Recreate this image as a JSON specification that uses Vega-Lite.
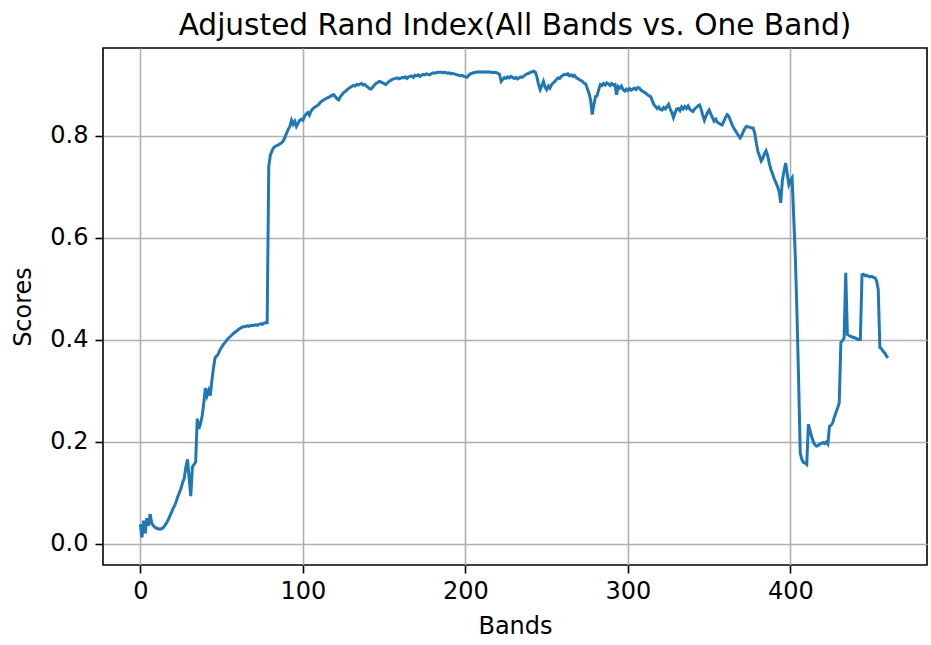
{
  "$schema": "https://vega.github.io/schema/vega-lite/v6.json",
  "width": 824,
  "height": 517,
  "autosize": {"type": "none"},
  "padding": {"left": 103, "top": 48, "right": 4, "bottom": 80},
  "background": "white",
  "title": {"text": "Adjusted Rand Index(All Bands vs. One Band)", "font": "DejaVu Sans", "fontSize": 29.6, "fontWeight": "normal", "color": "#000", "anchor": "middle", "offset": 6},
  "config": {
    "view": {"stroke": "#000", "strokeWidth": 1.6},
    "axis": {"labelFont": "DejaVu Sans", "titleFont": "DejaVu Sans", "labelFontSize": 24, "titleFontSize": 24, "titleFontWeight": "normal", "labelColor": "#000", "titleColor": "#000", "gridColor": "#b0b0b0", "gridWidth": 1.6, "tickColor": "#000", "tickWidth": 1.6, "tickSize": 8, "domain": false}
  },
  "data": {"values": [
{"b":0,"s":0.038},{"b":1,"s":0.012},{"b":2,"s":0.045},{"b":3,"s":0.020},{"b":4,"s":0.050},{"b":5,"s":0.035},{"b":6,"s":0.058},{"b":7,"s":0.040},{"b":8,"s":0.035},{"b":9,"s":0.032},
{"b":10,"s":0.030},{"b":11,"s":0.029},{"b":12,"s":0.028},{"b":13,"s":0.029},{"b":14,"s":0.031},{"b":15,"s":0.035},{"b":16,"s":0.040},{"b":17,"s":0.046},{"b":18,"s":0.053},{"b":19,"s":0.060},
{"b":20,"s":0.068},{"b":21,"s":0.074},{"b":22,"s":0.082},{"b":23,"s":0.092},{"b":24,"s":0.100},{"b":25,"s":0.108},{"b":26,"s":0.120},{"b":27,"s":0.128},{"b":28,"s":0.150},{"b":29,"s":0.165},
{"b":30,"s":0.128},{"b":31,"s":0.093},{"b":32,"s":0.150},{"b":33,"s":0.155},{"b":34,"s":0.160},{"b":35,"s":0.245},{"b":36,"s":0.225},{"b":37,"s":0.235},{"b":38,"s":0.250},{"b":39,"s":0.275},
{"b":40,"s":0.305},{"b":41,"s":0.290},{"b":42,"s":0.300},{"b":43,"s":0.290},{"b":44,"s":0.320},{"b":45,"s":0.345},{"b":46,"s":0.365},{"b":47,"s":0.368},{"b":48,"s":0.372},{"b":49,"s":0.380},
{"b":50,"s":0.385},{"b":51,"s":0.390},{"b":52,"s":0.394},{"b":53,"s":0.398},{"b":54,"s":0.402},{"b":55,"s":0.405},{"b":56,"s":0.408},{"b":57,"s":0.411},{"b":58,"s":0.414},{"b":59,"s":0.416},
{"b":60,"s":0.419},{"b":61,"s":0.421},{"b":62,"s":0.423},{"b":63,"s":0.425},{"b":64,"s":0.425},{"b":65,"s":0.426},{"b":66,"s":0.427},{"b":67,"s":0.426},{"b":68,"s":0.428},{"b":69,"s":0.427},
{"b":70,"s":0.428},{"b":71,"s":0.429},{"b":72,"s":0.428},{"b":73,"s":0.430},{"b":74,"s":0.431},{"b":75,"s":0.430},{"b":76,"s":0.432},{"b":77,"s":0.433},{"b":78,"s":0.433},{"b":79,"s":0.740},
{"b":80,"s":0.762},{"b":81,"s":0.770},{"b":82,"s":0.776},{"b":83,"s":0.779},{"b":84,"s":0.780},{"b":85,"s":0.782},{"b":86,"s":0.784},{"b":87,"s":0.786},{"b":88,"s":0.790},{"b":89,"s":0.797},
{"b":90,"s":0.805},{"b":91,"s":0.812},{"b":92,"s":0.818},{"b":93,"s":0.830},{"b":94,"s":0.822},{"b":95,"s":0.828},{"b":96,"s":0.818},{"b":97,"s":0.824},{"b":98,"s":0.830},{"b":99,"s":0.832},
{"b":100,"s":0.830},{"b":101,"s":0.838},{"b":102,"s":0.842},{"b":103,"s":0.845},{"b":104,"s":0.840},{"b":105,"s":0.848},{"b":106,"s":0.852},{"b":107,"s":0.855},{"b":108,"s":0.857},{"b":109,"s":0.859},
{"b":110,"s":0.862},{"b":111,"s":0.866},{"b":112,"s":0.868},{"b":113,"s":0.870},{"b":114,"s":0.872},{"b":115,"s":0.874},{"b":116,"s":0.875},{"b":117,"s":0.877},{"b":118,"s":0.879},{"b":119,"s":0.880},
{"b":120,"s":0.876},{"b":121,"s":0.872},{"b":122,"s":0.870},{"b":123,"s":0.876},{"b":124,"s":0.880},{"b":125,"s":0.884},{"b":126,"s":0.886},{"b":127,"s":0.889},{"b":128,"s":0.892},{"b":129,"s":0.894},
{"b":130,"s":0.896},{"b":131,"s":0.898},{"b":132,"s":0.897},{"b":133,"s":0.900},{"b":134,"s":0.899},{"b":135,"s":0.901},{"b":136,"s":0.902},{"b":137,"s":0.899},{"b":138,"s":0.900},{"b":139,"s":0.897},
{"b":140,"s":0.895},{"b":141,"s":0.892},{"b":142,"s":0.891},{"b":143,"s":0.895},{"b":144,"s":0.899},{"b":145,"s":0.902},{"b":146,"s":0.904},{"b":147,"s":0.906},{"b":148,"s":0.905},{"b":149,"s":0.903},
{"b":150,"s":0.902},{"b":151,"s":0.900},{"b":152,"s":0.903},{"b":153,"s":0.906},{"b":154,"s":0.908},{"b":155,"s":0.910},{"b":156,"s":0.911},{"b":157,"s":0.912},{"b":158,"s":0.913},{"b":159,"s":0.911},
{"b":160,"s":0.912},{"b":161,"s":0.914},{"b":162,"s":0.913},{"b":163,"s":0.915},{"b":164,"s":0.912},{"b":165,"s":0.915},{"b":166,"s":0.916},{"b":167,"s":0.917},{"b":168,"s":0.914},{"b":169,"s":0.918},
{"b":170,"s":0.917},{"b":171,"s":0.919},{"b":172,"s":0.916},{"b":173,"s":0.918},{"b":174,"s":0.920},{"b":175,"s":0.919},{"b":176,"s":0.921},{"b":177,"s":0.920},{"b":178,"s":0.919},{"b":179,"s":0.921},
{"b":180,"s":0.923},{"b":181,"s":0.922},{"b":182,"s":0.923},{"b":183,"s":0.924},{"b":184,"s":0.924},{"b":185,"s":0.924},{"b":186,"s":0.923},{"b":187,"s":0.924},{"b":188,"s":0.923},{"b":189,"s":0.922},
{"b":190,"s":0.923},{"b":191,"s":0.921},{"b":192,"s":0.922},{"b":193,"s":0.921},{"b":194,"s":0.920},{"b":195,"s":0.919},{"b":196,"s":0.918},{"b":197,"s":0.917},{"b":198,"s":0.918},{"b":199,"s":0.916},
{"b":200,"s":0.915},{"b":201,"s":0.914},{"b":202,"s":0.918},{"b":203,"s":0.921},{"b":204,"s":0.922},{"b":205,"s":0.923},{"b":206,"s":0.924},{"b":207,"s":0.924},{"b":208,"s":0.925},{"b":209,"s":0.924},
{"b":210,"s":0.925},{"b":211,"s":0.924},{"b":212,"s":0.925},{"b":213,"s":0.924},{"b":214,"s":0.925},{"b":215,"s":0.924},{"b":216,"s":0.924},{"b":217,"s":0.923},{"b":218,"s":0.924},{"b":219,"s":0.923},
{"b":220,"s":0.922},{"b":221,"s":0.920},{"b":222,"s":0.906},{"b":223,"s":0.910},{"b":224,"s":0.914},{"b":225,"s":0.912},{"b":226,"s":0.915},{"b":227,"s":0.913},{"b":228,"s":0.916},{"b":229,"s":0.914},
{"b":230,"s":0.912},{"b":231,"s":0.914},{"b":232,"s":0.911},{"b":233,"s":0.913},{"b":234,"s":0.915},{"b":235,"s":0.914},{"b":236,"s":0.917},{"b":237,"s":0.919},{"b":238,"s":0.921},{"b":239,"s":0.922},
{"b":240,"s":0.924},{"b":241,"s":0.925},{"b":242,"s":0.926},{"b":243,"s":0.924},{"b":244,"s":0.915},{"b":245,"s":0.900},{"b":246,"s":0.890},{"b":247,"s":0.898},{"b":248,"s":0.906},{"b":249,"s":0.895},
{"b":250,"s":0.890},{"b":251,"s":0.897},{"b":252,"s":0.893},{"b":253,"s":0.900},{"b":254,"s":0.903},{"b":255,"s":0.906},{"b":256,"s":0.910},{"b":257,"s":0.913},{"b":258,"s":0.912},{"b":259,"s":0.916},
{"b":260,"s":0.918},{"b":261,"s":0.920},{"b":262,"s":0.919},{"b":263,"s":0.921},{"b":264,"s":0.917},{"b":265,"s":0.919},{"b":266,"s":0.916},{"b":267,"s":0.918},{"b":268,"s":0.914},{"b":269,"s":0.912},
{"b":270,"s":0.910},{"b":271,"s":0.908},{"b":272,"s":0.906},{"b":273,"s":0.903},{"b":274,"s":0.901},{"b":275,"s":0.892},{"b":276,"s":0.883},{"b":277,"s":0.870},{"b":278,"s":0.841},{"b":279,"s":0.860},
{"b":280,"s":0.876},{"b":281,"s":0.878},{"b":282,"s":0.890},{"b":283,"s":0.900},{"b":284,"s":0.898},{"b":285,"s":0.902},{"b":286,"s":0.899},{"b":287,"s":0.903},{"b":288,"s":0.901},{"b":289,"s":0.898},
{"b":290,"s":0.902},{"b":291,"s":0.899},{"b":292,"s":0.900},{"b":293,"s":0.880},{"b":294,"s":0.896},{"b":295,"s":0.893},{"b":296,"s":0.897},{"b":297,"s":0.890},{"b":298,"s":0.887},{"b":299,"s":0.891},
{"b":300,"s":0.888},{"b":301,"s":0.892},{"b":302,"s":0.889},{"b":303,"s":0.891},{"b":304,"s":0.893},{"b":305,"s":0.890},{"b":306,"s":0.894},{"b":307,"s":0.893},{"b":308,"s":0.889},{"b":309,"s":0.887},
{"b":310,"s":0.885},{"b":311,"s":0.883},{"b":312,"s":0.880},{"b":313,"s":0.878},{"b":314,"s":0.876},{"b":315,"s":0.868},{"b":316,"s":0.860},{"b":317,"s":0.857},{"b":318,"s":0.853},{"b":319,"s":0.856},
{"b":320,"s":0.851},{"b":321,"s":0.850},{"b":322,"s":0.855},{"b":323,"s":0.852},{"b":324,"s":0.857},{"b":325,"s":0.861},{"b":326,"s":0.852},{"b":327,"s":0.845},{"b":328,"s":0.835},{"b":329,"s":0.845},
{"b":330,"s":0.852},{"b":331,"s":0.853},{"b":332,"s":0.849},{"b":333,"s":0.856},{"b":334,"s":0.852},{"b":335,"s":0.857},{"b":336,"s":0.853},{"b":337,"s":0.858},{"b":338,"s":0.852},{"b":339,"s":0.849},
{"b":340,"s":0.847},{"b":341,"s":0.852},{"b":342,"s":0.855},{"b":343,"s":0.858},{"b":344,"s":0.860},{"b":345,"s":0.852},{"b":346,"s":0.840},{"b":347,"s":0.830},{"b":348,"s":0.838},{"b":349,"s":0.845},
{"b":350,"s":0.850},{"b":351,"s":0.842},{"b":352,"s":0.835},{"b":353,"s":0.828},{"b":354,"s":0.832},{"b":355,"s":0.826},{"b":356,"s":0.824},{"b":357,"s":0.822},{"b":358,"s":0.821},{"b":359,"s":0.828},
{"b":360,"s":0.835},{"b":361,"s":0.841},{"b":362,"s":0.838},{"b":363,"s":0.830},{"b":364,"s":0.822},{"b":365,"s":0.815},{"b":366,"s":0.810},{"b":367,"s":0.805},{"b":368,"s":0.800},{"b":369,"s":0.795},
{"b":370,"s":0.800},{"b":371,"s":0.808},{"b":372,"s":0.814},{"b":373,"s":0.818},{"b":374,"s":0.817},{"b":375,"s":0.816},{"b":376,"s":0.815},{"b":377,"s":0.815},{"b":378,"s":0.805},{"b":379,"s":0.785},
{"b":380,"s":0.768},{"b":381,"s":0.760},{"b":382,"s":0.750},{"b":383,"s":0.755},{"b":384,"s":0.765},{"b":385,"s":0.770},{"b":386,"s":0.760},{"b":387,"s":0.745},{"b":388,"s":0.733},{"b":389,"s":0.725},
{"b":390,"s":0.715},{"b":391,"s":0.708},{"b":392,"s":0.700},{"b":393,"s":0.690},{"b":394,"s":0.668},{"b":395,"s":0.712},{"b":396,"s":0.730},{"b":397,"s":0.746},{"b":398,"s":0.725},{"b":399,"s":0.704},
{"b":400,"s":0.712},{"b":401,"s":0.717},{"b":402,"s":0.640},{"b":403,"s":0.560},{"b":404,"s":0.450},{"b":405,"s":0.320},{"b":406,"s":0.178},{"b":407,"s":0.165},{"b":408,"s":0.159},{"b":409,"s":0.158},
{"b":410,"s":0.155},{"b":411,"s":0.234},{"b":412,"s":0.222},{"b":413,"s":0.210},{"b":414,"s":0.200},{"b":415,"s":0.194},{"b":416,"s":0.191},{"b":417,"s":0.192},{"b":418,"s":0.195},{"b":419,"s":0.196},
{"b":420,"s":0.198},{"b":421,"s":0.196},{"b":422,"s":0.199},{"b":423,"s":0.195},{"b":424,"s":0.230},{"b":425,"s":0.232},{"b":426,"s":0.237},{"b":427,"s":0.248},{"b":428,"s":0.257},{"b":429,"s":0.266},
{"b":430,"s":0.276},{"b":431,"s":0.394},{"b":432,"s":0.398},{"b":433,"s":0.403},{"b":434,"s":0.531},{"b":435,"s":0.410},{"b":436,"s":0.408},{"b":437,"s":0.406},{"b":438,"s":0.405},{"b":439,"s":0.404},
{"b":440,"s":0.403},{"b":441,"s":0.401},{"b":442,"s":0.400},{"b":443,"s":0.400},{"b":444,"s":0.527},{"b":445,"s":0.528},{"b":446,"s":0.525},{"b":447,"s":0.526},{"b":448,"s":0.524},{"b":449,"s":0.523},
{"b":450,"s":0.524},{"b":451,"s":0.522},{"b":452,"s":0.521},{"b":453,"s":0.515},{"b":454,"s":0.498},{"b":455,"s":0.384},{"b":456,"s":0.382},{"b":457,"s":0.377},{"b":458,"s":0.374},{"b":459,"s":0.368},
{"b":460,"s":0.364}
  ]},
  "mark": {"type": "line", "color": "#1f77b4", "strokeWidth": 3, "clip": true},
  "encoding": {
    "x": {"field": "b", "type": "quantitative", "title": "Bands",
      "scale": {"domain": [-23, 484], "nice": false, "zero": false},
      "axis": {"values": [0, 100, 200, 300, 400], "labelPadding": 6, "titlePadding": 11}},
    "y": {"field": "s", "type": "quantitative", "title": "Scores",
      "scale": {"domain": [-0.042, 0.9716], "nice": false, "zero": false},
      "axis": {"values": [0, 0.2, 0.4, 0.6, 0.8], "format": ".1f", "labelPadding": 7, "titlePadding": 14}}
  }
}
